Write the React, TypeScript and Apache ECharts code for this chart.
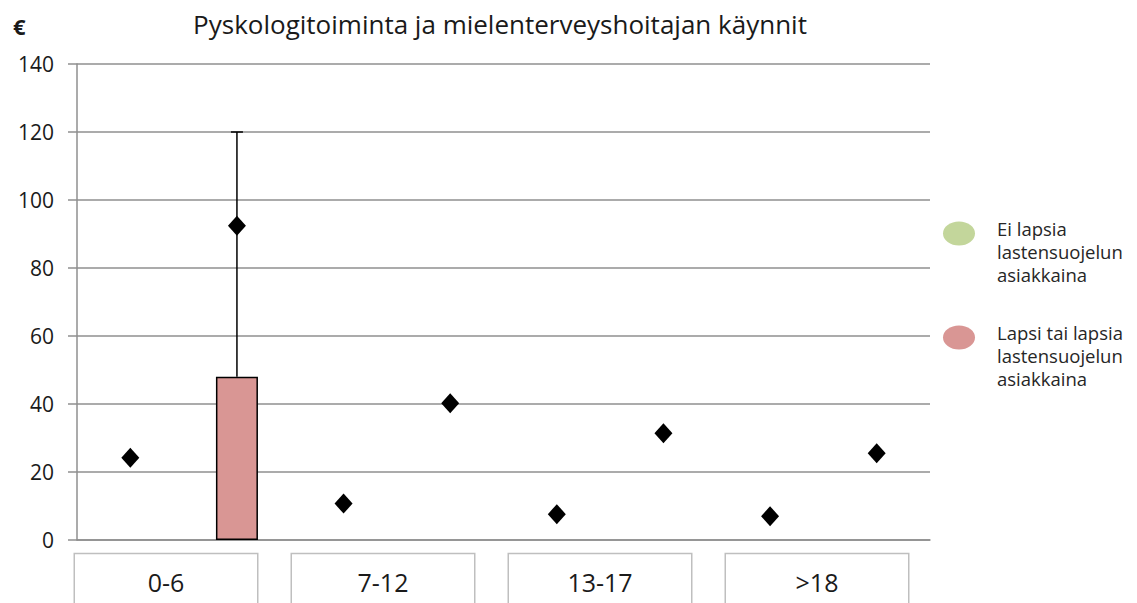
import React, { useEffect, useRef } from "react";
import * as echarts from "echarts";

const titleText = "Pyskologitoiminta ja mielenterveyshoitajan käynnit";
const unitText = "€";
const categories = ["0-6", "7-12", "13-17", ">18"];
const groupNames = [
  "Ei lapsia\nlastensuojelun\nasiakkaina",
  "Lapsi tai lapsia\nlastensuojelun\nasiakkaina",
];
const groupColors = ["#c3d69b", "#d99694"];
// bar (box) heights per category
const barNoChild: (number | null)[] = [null, null, null, null];
const barChild: (number | null)[] = [48, null, null, null];
// upper whisker per category
const whiskerNoChild: (number | null)[] = [null, null, null, null];
const whiskerChild: (number | null)[] = [120, null, null, null];
// means (diamonds)
const meanNoChild = [24.2, 10.7, 7.6, 7.0];
const meanChild = [92.4, 40.2, 31.4, 25.5];
const yTicks = { min: 0, max: 140, interval: 20 };

const FONT = "'Open Sans', sans-serif";
const GRID_COLOR = "#8f8f8f";

export default function App() {
  const ref = useRef<HTMLDivElement>(null);
  useEffect(() => {
    if (!ref.current) return;
    const chart = echarts.init(ref.current, undefined, { renderer: "svg" });

    const subCats = categories.flatMap((c) => [c + "_a", c + "_b"]);
    const interleave = (a: (number | null)[], b: (number | null)[]) =>
      categories.flatMap((_, i) => [a[i], b[i]]);
    const barA = interleave(barNoChild, categories.map(() => null));
    const barB = interleave(categories.map(() => null), barChild);
    const means = interleave(meanNoChild, meanChild);
    const bases = interleave(barNoChild, barChild);
    const whiskers = interleave(whiskerNoChild, whiskerChild);
    const errData = whiskers
      .map((v, i) => (v == null ? null : [i, bases[i] ?? 0, v]))
      .filter((d) => d != null);

    const iconPath =
      "path://M0,0L0,0M0,12A16,12,0,1,1,32,12A16,12,0,1,1,0,12ZM49,60L49,60";

    chart.setOption({
      animation: false,
      textStyle: { fontFamily: FONT },
      title: [
        {
          text: titleText,
          left: 495,
          top: 6,
          textAlign: "center",
          textStyle: { fontFamily: FONT, fontSize: 26, fontWeight: "normal", color: "#1a1a1a" },
        },
        {
          text: unitText,
          left: 8,
          top: 10,
          textStyle: { fontFamily: FONT, fontSize: 22, fontWeight: "bold", color: "#1a1a1a" },
        },
      ],
      legend: {
        orient: "vertical",
        left: 943,
        top: 217,
        padding: 0,
        itemWidth: 49,
        itemHeight: 60,
        itemGap: 35,
        selectedMode: false,
        textStyle: { fontFamily: FONT, fontSize: 18.5, lineHeight: 23, color: "#262626" },
        itemStyle: { borderWidth: 0 },
        data: groupNames.map((n, i) => ({
          name: n,
          icon: iconPath,
          itemStyle: { color: groupColors[i], borderWidth: 0 },
        })),
      },
      grid: [
        { left: 77, right: 207, top: 64, bottom: 63 },
        { left: 57.5, right: 211.5, top: 540, height: 1 },
      ],
      xAxis: [
        {
          type: "category",
          gridIndex: 0,
          data: subCats,
          axisLine: { show: true, lineStyle: { color: GRID_COLOR, width: 1.5 } },
          axisTick: { show: false },
          axisLabel: { show: false },
          splitLine: { show: false },
        },
        {
          type: "category",
          gridIndex: 1,
          data: categories,
          axisLine: { show: false },
          axisTick: { show: false },
          axisLabel: {
            margin: 14,
            fontFamily: FONT,
            fontSize: 25,
            color: "#1a1a1a",
            width: 182,
            height: 30,
            lineHeight: 30,
            align: "center",
            padding: [13, 0, 20, 0],
            borderColor: "#bfbfbf",
            borderWidth: 1.5,
            backgroundColor: "#ffffff",
          },
        },
      ],
      yAxis: [
        {
          type: "value",
          gridIndex: 0,
          min: yTicks.min,
          max: yTicks.max,
          interval: yTicks.interval,
          axisLine: { show: true, lineStyle: { color: GRID_COLOR, width: 1.5 } },
          axisTick: { show: true, inside: false, length: 9, lineStyle: { color: GRID_COLOR, width: 1.5 } },
          axisLabel: { margin: 23, fontFamily: FONT, fontSize: 21, color: "#1a1a1a" },
          splitLine: { show: true, lineStyle: { color: GRID_COLOR, width: 1.5 } },
        },
        {
          type: "value",
          gridIndex: 1,
          show: false,
        },
      ],
      series: [
        {
          name: groupNames[0],
          type: "bar",
          xAxisIndex: 0,
          yAxisIndex: 0,
          data: barA,
          barWidth: 42,
          barGap: "-100%",
          itemStyle: { color: groupColors[0], borderColor: "#000", borderWidth: 1.5 },
          z: 3,
        },
        {
          name: groupNames[1],
          type: "bar",
          xAxisIndex: 0,
          yAxisIndex: 0,
          data: barB,
          barWidth: 42,
          barGap: "-100%",
          itemStyle: { color: groupColors[1], borderColor: "#000", borderWidth: 1.5 },
          z: 3,
        },
        {
          name: "whisker",
          type: "custom",
          xAxisIndex: 0,
          yAxisIndex: 0,
          data: errData,
          z: 2,
          renderItem: (params: any, api: any) => {
            const x = api.value(0);
            const lo = api.coord([x, api.value(1)]);
            const hi = api.coord([x, api.value(2)]);
            const style = { stroke: "#000", lineWidth: 1.5 };
            return {
              type: "group",
              children: [
                { type: "line", shape: { x1: lo[0], y1: lo[1], x2: hi[0], y2: hi[1] }, style },
                { type: "line", shape: { x1: hi[0] - 6, y1: hi[1], x2: hi[0] + 6, y2: hi[1] }, style },
              ],
            };
          },
        },
        {
          name: "mean",
          type: "scatter",
          xAxisIndex: 0,
          yAxisIndex: 0,
          data: means,
          symbol: "diamond",
          symbolSize: [18, 20],
          itemStyle: { color: "#000", opacity: 1 },
          z: 5,
        },
      ],
    });
    return () => chart.dispose();
  }, []);
  return (
    <div
      ref={ref}
      style={{ position: "fixed", left: 0, top: 0, width: 1137, height: 603, background: "#fff" }}
    />
  );
}
